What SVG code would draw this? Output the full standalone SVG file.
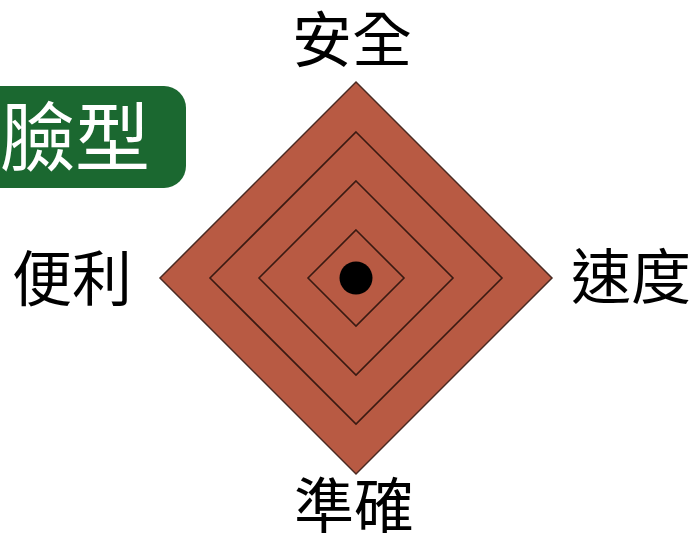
<svg xmlns="http://www.w3.org/2000/svg" width="692" height="536" viewBox="0 0 692 536">
  <style>
    .lbl { font-family: "Noto Sans CJK TC", "Noto Sans CJK SC", sans-serif; font-size: 60px; fill: #000; }
    .title { font-family: "Noto Sans CJK TC", "Noto Sans CJK SC", sans-serif; font-size: 75px; fill: #fff; }
    .ring { fill: none; stroke: #3a1a12; stroke-width: 1.6; }
  </style>
  <rect width="692" height="536" fill="#fff"/>
  <g id="title">
    <rect x="-30" y="86" width="216" height="102" rx="22" fill="#1b6830"/>
    <text class="title" x="0" y="165">臉型</text>
  </g>
  <g id="target">
    <polygon points="356,82 552,278 356,474 160,278" fill="#b85a43" stroke="#4a2a22" stroke-width="1.5"/>
    <polygon class="ring" points="356,132 502,278 356,424 210,278"/>
    <polygon class="ring" points="356,181 453,278 356,375 259,278"/>
    <polygon class="ring" points="356,230 404,278 356,326 308,278"/>
    <circle cx="356" cy="278" r="16.5" fill="#000"/>
  </g>
  <g id="labels">
    <text class="lbl" x="352" y="62" text-anchor="middle">安全</text>
    <text class="lbl" x="72" y="301" text-anchor="middle">便利</text>
    <text class="lbl" x="631" y="299" text-anchor="middle">速度</text>
    <text class="lbl" x="354" y="528" text-anchor="middle">準確</text>
  </g>
</svg>
